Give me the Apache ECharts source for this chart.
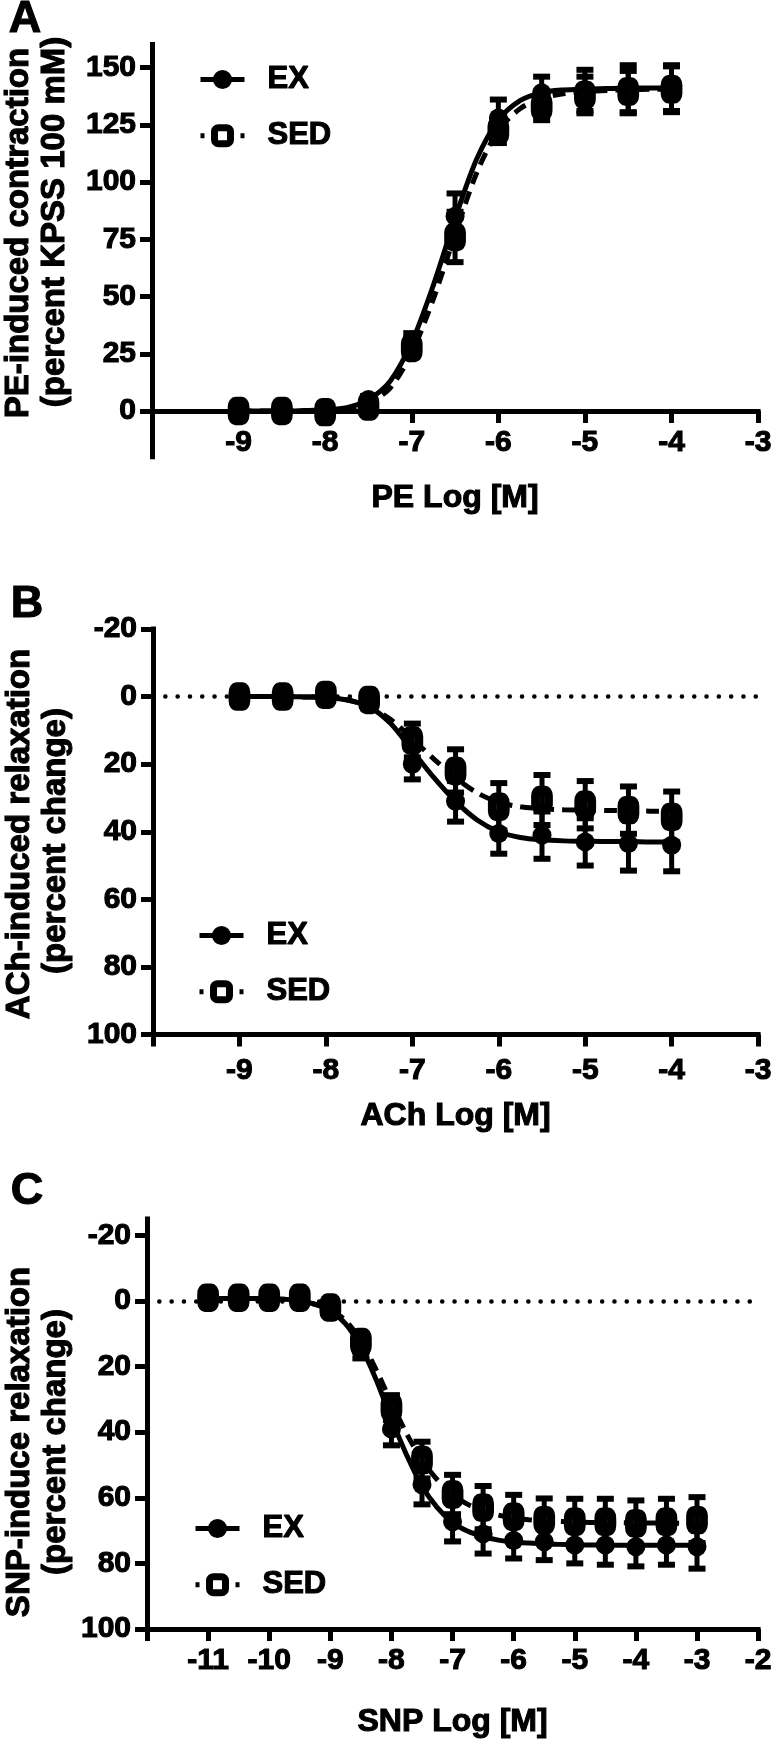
<!DOCTYPE html>
<html><head><meta charset="utf-8">
<script src="https://cdn.jsdelivr.net/npm/echarts@6/dist/echarts.min.js"></script>
<style>html,body{margin:0;padding:0;background:#fff}#c{width:775px;height:1740px}</style>
</head><body><div id="c"></div>
<script>
// ---------- Panel A : PE ----------
const peX = [-9,-8.5,-8,-7.5,-7,-6.5,-6,-5.5,-5,-4.5,-4];
const peExMean = [0,0,0,5,31,85,128,139,140,140.5,141];
const peExSem  = [1,1,1,1.5,3,10,8,7,9,10.5,10];
const peSedMean = [0,0,-0.5,2,27.5,76,122.5,133,138,139.5,140.5];
const peSedSem  = [1,1,1.5,1.5,3,11,5.5,6,8,9,10];
const peCurveX = [-9,-8.75,-8.5,-8.25,-8,-7.75,-7.5,-7.25,-7,-6.75,-6.5,-6.25,-6,-5.75,-5.5,-5.25,-5,-4.75,-4.5,-4.25,-4];
const peExCurve  = [0,0,0,0.2,0.5,1.5,5,13,30,55,84,110,127,135.5,139,140.2,140.6,140.8,141,141,141];
const peSedCurve = [0,0,0,0.1,0.3,1,3.5,10,25.5,49,77,104,122.5,132,136.5,138.5,139.5,140,140.3,140.5,140.6];
const peXTicks = [-9,-8,-7,-6,-5,-4,-3];
const peYTicks = [0,25,50,75,100,125,150];

// ---------- Panel B : ACh ----------
const achX = [-9,-8.5,-8,-7.5,-7,-6.5,-6,-5.5,-5,-4.5,-4];
const achExMean = [0,0,0,2,20,31,40.5,41,43,43.5,44];
const achExSem  = [1,1,1,1.5,4.5,6,6,7,7,8,7.7];
const achSedMean = [0,0,-0.5,1,13,22,32.6,30.6,32,33.6,35.6];
const achSedSem  = [1,1,1.5,1.5,5,6.4,7,7.4,7,7,7.5];
const achCurveX = [-9,-8.75,-8.5,-8.25,-8,-7.75,-7.5,-7.25,-7,-6.75,-6.5,-6.25,-6,-5.75,-5.5,-5.25,-5,-4.75,-4.5,-4.25,-4];
const achExCurve  = [0,0,0,0.1,0.3,1,3,8,16,24,31,36.5,40,41.7,42.4,42.7,42.8,42.9,42.9,43,43];
const achSedCurve = [0,0,0,0.1,0.2,1,3,6.8,12.5,18.5,24,28.5,31.3,32.6,33.2,33.5,33.6,33.7,33.8,33.9,33.9];
const achXTicks = [-9,-8,-7,-6,-5,-4,-3];
const achYTicks = [-20,0,20,40,60,80,100];

// ---------- Panel C : SNP ----------
const snpX = [-11,-10.5,-10,-9.5,-9,-8.5,-8,-7.5,-7,-6.5,-6,-5.5,-5,-4.5,-4,-3.5,-3];
const snpExMean = [-1,-1,-1,-1,2,15,39,56,67.3,71,73,73.4,74.4,74.4,74.9,74.4,74.9];
const snpExSem  = [1,1,1,1,1.5,2.5,5,6,6,6,5.5,5.6,5.6,6,6,6,6.7];
const snpSedMean = [-1,-1,-1,-1,2,12.5,32.5,48.5,59,63,65.8,66.8,67.3,67.3,67.8,67.3,66.8];
const snpSedSem  = [1,1,1,1,1.5,2.5,3.8,5.6,6,6.6,6.7,6.6,7,7,7,7,7];
const snpCurveX = [-11,-10.75,-10.5,-10.25,-10,-9.75,-9.5,-9.25,-9,-8.75,-8.5,-8.25,-8,-7.75,-7.5,-7.25,-7,-6.75,-6.5,-6.25,-6,-5.75,-5.5,-5.25,-5,-4.75,-4.5,-4.25,-4,-3.75,-3.5,-3.25,-3];
const snpExCurve  = [-0.8,-0.8,-0.8,-0.8,-0.7,-0.5,0,1,3,7,14,24,36,47,56.5,63,67.5,70.2,71.8,72.9,73.5,73.8,74,74.2,74.3,74.4,74.4,74.5,74.5,74.5,74.5,74.5,74.5];
const snpSedCurve = [-0.8,-0.8,-0.8,-0.8,-0.7,-0.5,0,1,2.5,6,12,21,31,40.5,48.5,54.5,59,62,64,65.3,66.2,66.7,67,67.2,67.4,67.5,67.6,67.6,67.7,67.7,67.7,67.8,67.8];
const snpXTicks = [-11,-10,-9,-8,-7,-6,-5,-4,-3,-2];
const snpYTicks = [-20,0,20,40,60,80,100];

const FF = "'Liberation Sans', Arial, Helvetica, sans-serif";
const BLACK = '#000';
const BOLDEN = { textBorderColor: BLACK, textBorderWidth: 1.1 };

function zip(xs, ys) { return xs.map((x, i) => [x, ys[i]]); }
function errData(xs, m, s) { return xs.map((x, i) => [x, m[i] - s[i], m[i] + s[i]]); }

function errRender(params, api) {
  const x = api.value(0), lo = api.value(1), hi = api.value(2);
  const a = api.coord([x, hi]), b = api.coord([x, lo]);
  const hw = 8.5;
  return { type: 'group', children: [
    { type: 'line', shape: { x1: a[0], y1: a[1], x2: b[0], y2: b[1] }, style: { stroke: BLACK, lineWidth: 5 } },
    { type: 'line', shape: { x1: a[0] - hw, y1: a[1], x2: a[0] + hw, y2: a[1] }, style: { stroke: BLACK, lineWidth: 6 } },
    { type: 'line', shape: { x1: b[0] - hw, y1: b[1], x2: b[0] + hw, y2: b[1] }, style: { stroke: BLACK, lineWidth: 6 } }
  ]};
}

const EX_STYLE = { color: BLACK, borderColor: BLACK, borderWidth: 0, opacity: 1 };
const SED_STYLE = { color: '#fff', borderColor: BLACK, borderWidth: 10, opacity: 1 };
const SED_SIZE = [13, 17];

const grids = [], xAxes = [], yAxes = [], series = [], legends = [];

function panel(i, cfg) {
  grids.push(cfg.grid);
  // x axis crosses the y axis at value cfg.xCross (0 for panel A, the bottom for B/C)
  const yPx = cfg.grid.height;
  const crossOffset = cfg.inverse ? 0 : -(cfg.xCross - cfg.yMin) / (cfg.yMax - cfg.yMin) * yPx;
  xAxes.push({
    type: 'value', gridIndex: i, min: cfg.xMin, max: cfg.xMax, position: 'bottom', offset: crossOffset,
    name: cfg.xName, nameLocation: 'middle', nameGap: cfg.xNameGap,
    nameTextStyle: Object.assign({ fontFamily: FF, fontWeight: 'bold', fontSize: 32, color: BLACK }, BOLDEN),
    axisLine: { onZero: false, lineStyle: { color: BLACK, width: 5, cap: 'square' } },
    axisTick: { customValues: [cfg.xMin].concat(cfg.xTicks), length: 12, lineStyle: { color: BLACK, width: 5 } },
    axisLabel: Object.assign({ customValues: cfg.xTicks, margin: cfg.xLabelMargin, fontFamily: FF, fontWeight: 'bold', fontSize: 30, color: BLACK }, BOLDEN),
    splitLine: { show: false }
  });
  yAxes.push({
    type: 'value', gridIndex: i, min: cfg.yMin, max: cfg.yMax, inverse: cfg.inverse,
    axisLine: { onZero: false, lineStyle: { color: BLACK, width: 5, cap: 'square' } },
    axisTick: { customValues: cfg.yTicks, length: 12, lineStyle: { color: BLACK, width: 5 } },
    axisLabel: Object.assign({ customValues: cfg.yTicks, margin: 16, fontFamily: FF, fontWeight: 'bold', fontSize: 30, color: BLACK }, BOLDEN),
    splitLine: { show: false }
  });
  // fitted curves (these carry the legend entries)
  series.push({
    name: 'EX', type: 'line', xAxisIndex: i, yAxisIndex: i, data: zip(cfg.curveX, cfg.exCurve),
    smooth: 0.3, showSymbol: false, symbol: 'circle', symbolSize: 19,
    lineStyle: { color: BLACK, width: 5, type: 'solid' }, itemStyle: EX_STYLE, z: 2, silent: true
  });
  series.push({
    name: 'SED', type: 'line', xAxisIndex: i, yAxisIndex: i, data: zip(cfg.curveX, cfg.sedCurve),
    smooth: 0.3, showSymbol: false, symbol: 'roundRect', symbolSize: SED_SIZE,
    lineStyle: { color: BLACK, width: 5, type: [13, 8] }, itemStyle: SED_STYLE, z: 2, silent: true
  });
  // group means
  const exPts = {
    name: 'EX mean', type: 'scatter', xAxisIndex: i, yAxisIndex: i, data: zip(cfg.x, cfg.exMean),
    symbol: 'circle', symbolSize: 19, itemStyle: EX_STYLE, z: 3, silent: true
  };
  if (cfg.zeroLine) {
    exPts.markLine = {
      silent: true, symbol: ['none', 'none'], label: { show: false },
      lineStyle: { color: BLACK, width: 4.5, type: [0.1, 12.2], cap: 'round', opacity: 1 },
      data: [{ yAxis: 0 }]
    };
  }
  series.push(exPts);
  series.push({
    name: 'SED mean', type: 'scatter', xAxisIndex: i, yAxisIndex: i, data: zip(cfg.x, cfg.sedMean),
    symbol: 'roundRect', symbolSize: SED_SIZE, itemStyle: SED_STYLE, z: 3, silent: true
  });
  // SEM error bars
  series.push({
    name: 'EX sem', type: 'custom', xAxisIndex: i, yAxisIndex: i, data: errData(cfg.x, cfg.exMean, cfg.exSem),
    encode: { x: 0, y: [1, 2] }, renderItem: errRender, z: 4, silent: true
  });
  series.push({
    name: 'SED sem', type: 'custom', xAxisIndex: i, yAxisIndex: i, data: errData(cfg.x, cfg.sedMean, cfg.sedSem),
    encode: { x: 0, y: [1, 2] }, renderItem: errRender, z: 4, silent: true
  });
  legends.push({
    orient: 'vertical', left: cfg.legend[0], top: cfg.legend[1] + 2.5, selectedMode: false,
    padding: [5, 5, 5, 0],
    itemWidth: 44, itemHeight: 20, itemGap: 24,
    textStyle: Object.assign({ fontFamily: FF, fontWeight: 'bold', fontSize: 31, color: BLACK, padding: [0, 0, 0, 18] }, BOLDEN),
    lineStyle: { width: 5 },
    data: [
      { name: 'EX', itemStyle: { borderWidth: 3, borderColor: BLACK } },
      { name: 'SED', itemStyle: { borderWidth: 7 }, lineStyle: { type: [4, 8, 20, 8, 4, 100] } }
    ]
  });
}

panel(0, {
  grid: { left: 152, top: 44.6, width: 619, height: 412.2 },
  xMin: -10, xMax: -3, yMin: -20, yMax: 160, inverse: false, xCross: 0,
  xTicks: peXTicks, yTicks: peYTicks, xLabelMargin: 17, xName: 'PE Log [M]', xNameGap: 71,
  x: peX, exMean: peExMean, exSem: peExSem, sedMean: peSedMean, sedSem: peSedSem,
  curveX: peCurveX, exCurve: peExCurve, sedCurve: peSedCurve, zeroLine: false,
  legend: [198, 56]
});
panel(1, {
  grid: { left: 153, top: 629, width: 611, height: 405.5 },
  xMin: -10, xMax: -3, yMin: -20, yMax: 100, inverse: true, xCross: 100,
  xTicks: achXTicks, yTicks: achYTicks, xLabelMargin: 21, xName: 'ACh Log [M]', xNameGap: 66,
  x: achX, exMean: achExMean, exSem: achExSem, sedMean: achSedMean, sedSem: achSedSem,
  curveX: achCurveX, exCurve: achExCurve, sedCurve: achSedCurve, zeroLine: true,
  legend: [197, 912]
});
panel(2, {
  grid: { left: 147, top: 1219, width: 617, height: 410 },
  xMin: -12, xMax: -2, yMin: -25, yMax: 100, inverse: true, xCross: 100,
  xTicks: snpXTicks, yTicks: snpYTicks, xLabelMargin: 17, xName: 'SNP Log [M]', xNameGap: 77,
  x: snpX, exMean: snpExMean, exSem: snpExSem, sedMean: snpSedMean, sedSem: snpSedSem,
  curveX: snpCurveX, exCurve: snpExCurve, sedCurve: snpSedCurve, zeroLine: true,
  legend: [193, 1505]
});

function vText(text, x, y) {
  return { type: 'text', x: x, y: y, rotation: Math.PI / 2, silent: true,
    style: { text: text, fontFamily: FF, fontWeight: 'bold', fontSize: 33, fill: BLACK, stroke: BLACK, lineWidth: 1.1, align: 'center', verticalAlign: 'middle' } };
}
function letter(text, x, y) {
  return { type: 'text', x: x, y: y, silent: true,
    style: { text: text, fontFamily: FF, fontWeight: 'bold', fontSize: 45, fill: BLACK, stroke: BLACK, lineWidth: 1.1, align: 'center', verticalAlign: 'middle' } };
}

const graphics = [
  letter('A', 25, 20), letter('B', 27, 605), letter('C', 27, 1192),
  vText('PE-induced contraction', 19, 233), vText('(percent KPSS 100 mM)', 55, 222),
  vText('ACh-induced relaxation', 20, 834), vText('(percent change)', 56, 841),
  vText('SNP-induce relaxation', 20, 1442), vText('(percent change)', 56, 1442)
];

const chart = echarts.init(document.getElementById('c'), null, { renderer: 'canvas' });
chart.setOption({
  animation: false,
  backgroundColor: '#fff',
  grid: grids, xAxis: xAxes, yAxis: yAxes, series: series, legend: legends,
  graphic: graphics
});
</script></body></html>
